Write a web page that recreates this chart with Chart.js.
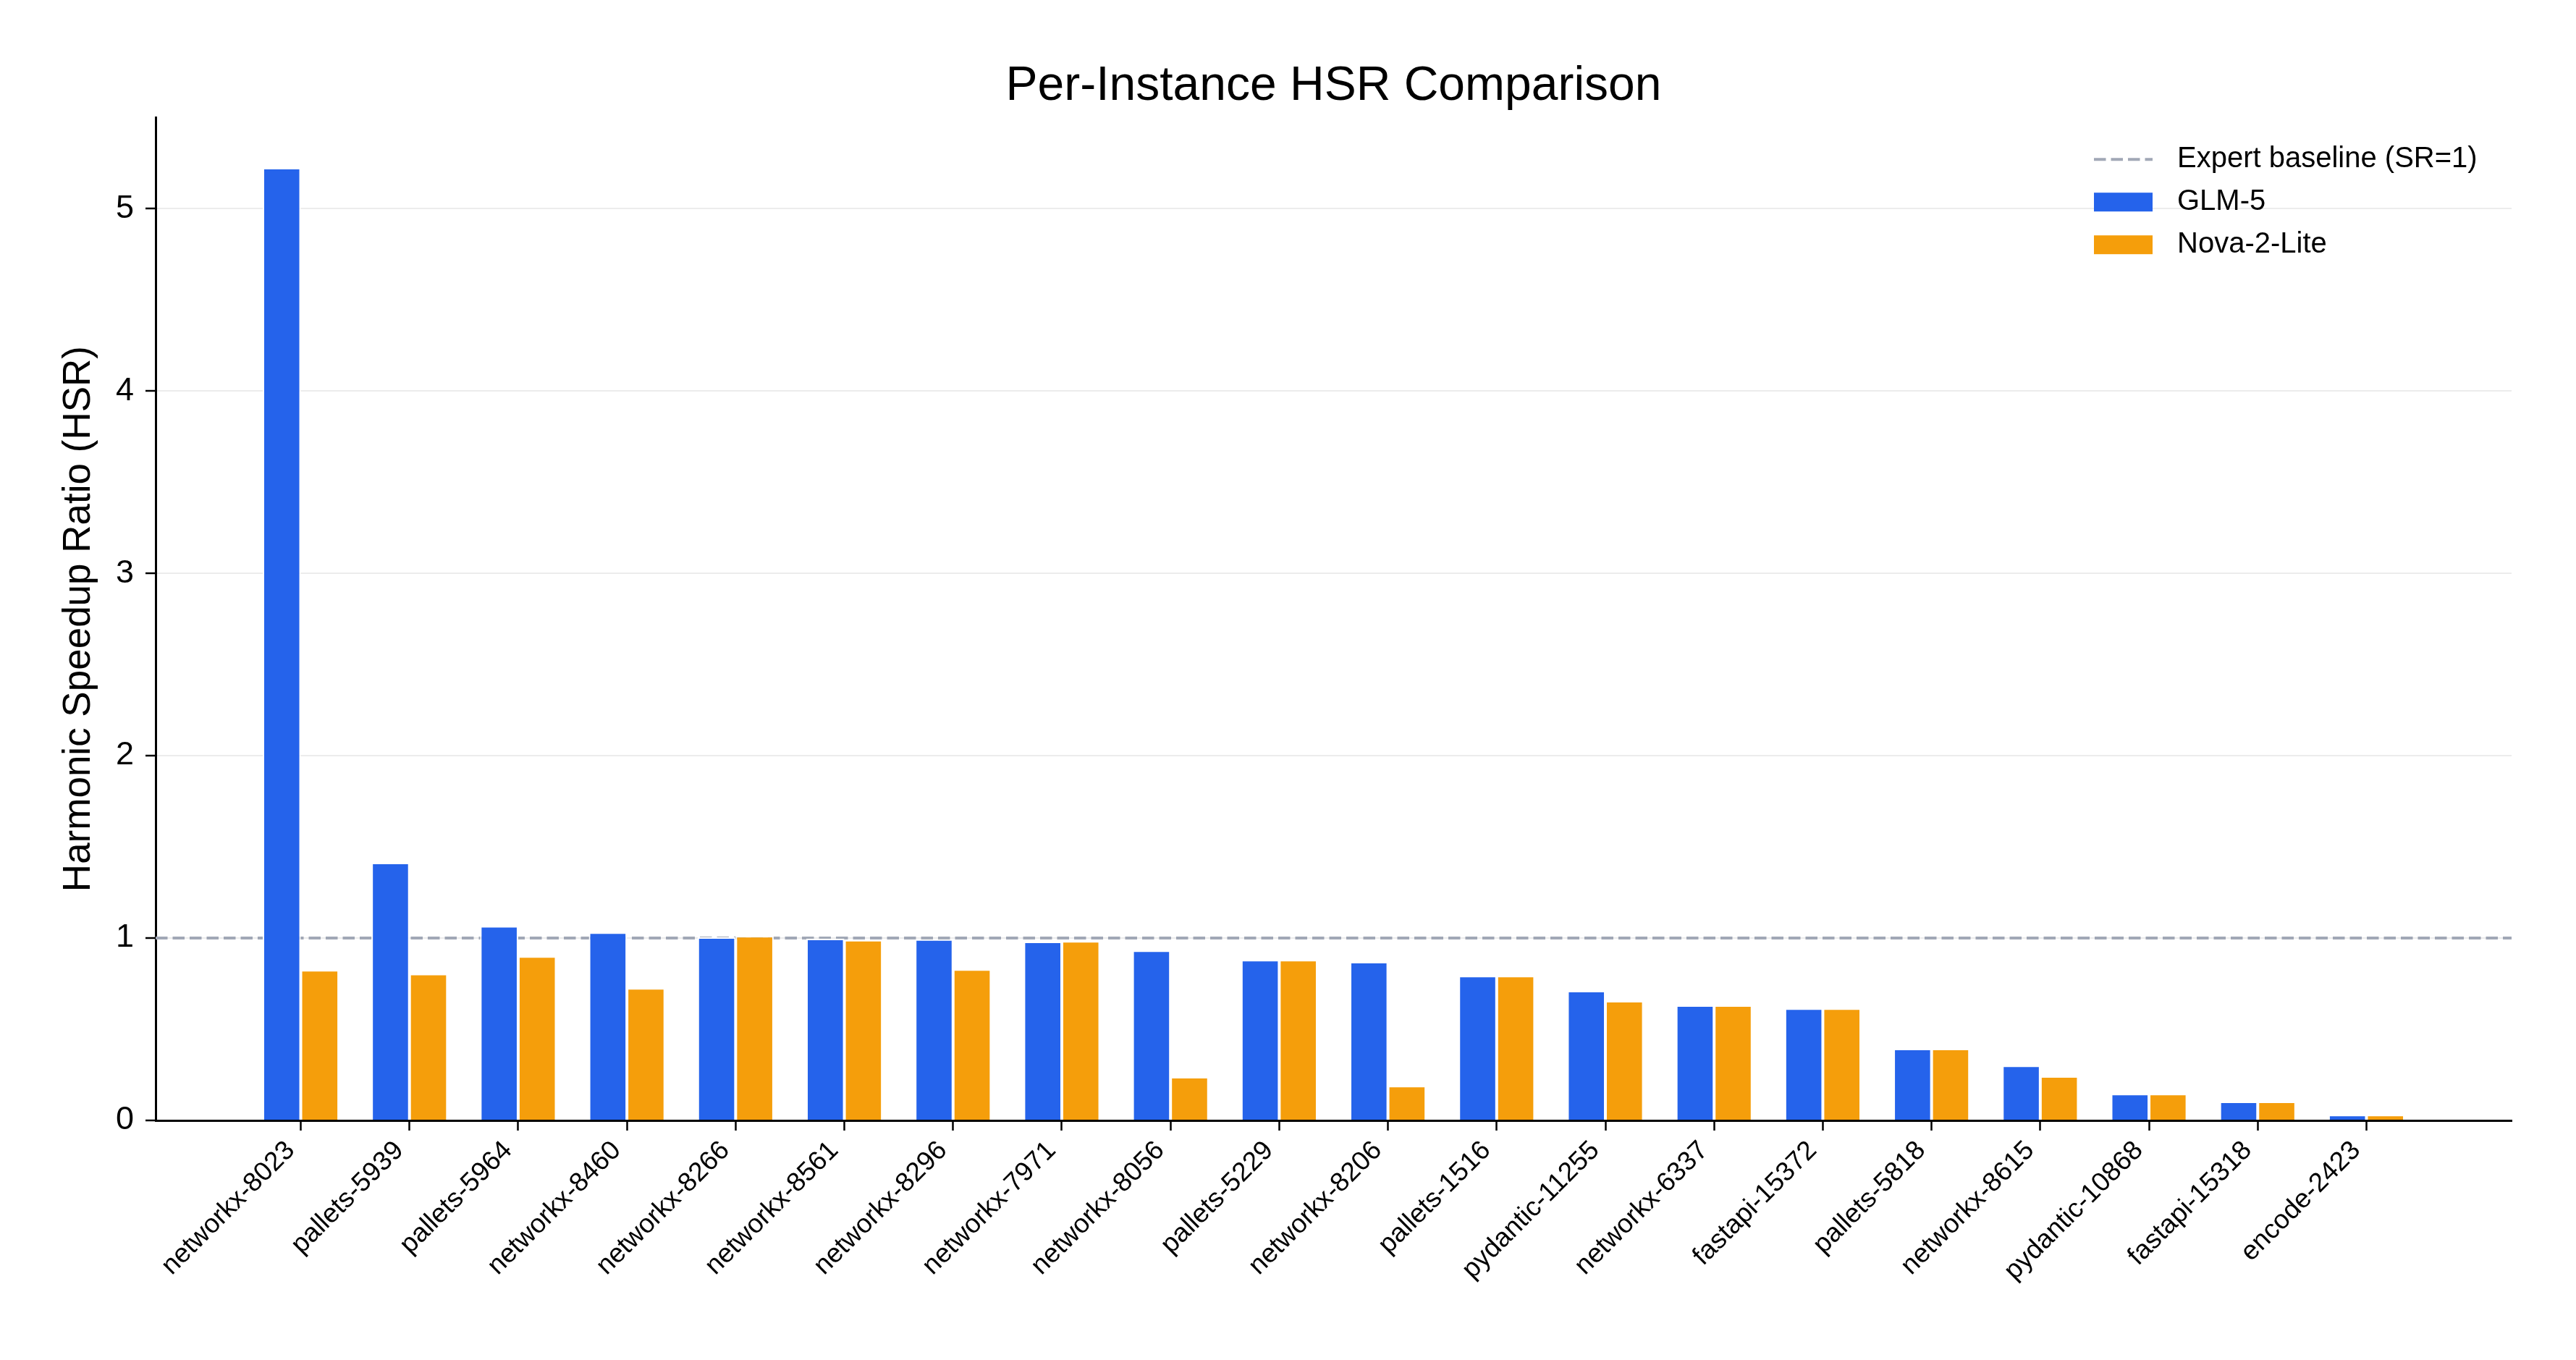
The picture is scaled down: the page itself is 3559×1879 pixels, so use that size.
<!DOCTYPE html>
<html><head><meta charset="utf-8">
<script src="https://cdn.jsdelivr.net/npm/chart.js@4.4.1/dist/chart.umd.min.js"></script>
<style>html,body{margin:0;padding:0;background:#fff;overflow:hidden}#wrap{width:3559px;height:1879px}</style>
</head><body><div id="wrap"><canvas id="c" width="3559" height="1879" style="width:3559px;height:1879px"></canvas></div>
<script>
const categories = ['networkx-8023','pallets-5939','pallets-5964','networkx-8460','networkx-8266','networkx-8561','networkx-8296','networkx-7971','networkx-8056','pallets-5229','networkx-8206','pallets-1516','pydantic-11255','networkx-6337','fastapi-15372','pallets-5818','networkx-8615','pydantic-10868','fastapi-15318','encode-2423'];
const glm5 = [5.223,1.413,1.066,1.031,1.004,0.996,0.993,0.980,0.932,0.880,0.869,0.793,0.710,0.631,0.614,0.393,0.301,0.146,0.103,0.031];
const nova2lite = [0.825,0.804,0.900,0.725,1.011,0.989,0.828,0.983,0.238,0.880,0.190,0.793,0.655,0.631,0.614,0.393,0.242,0.146,0.103,0.031];
const seriesNames = ['GLM-5','Nova-2-Lite'];
const baselineValue = 1;
const baselineLabel = 'Expert baseline (SR=1)';
const yTicks = [0,1,2,3,4,5];
const yMax = 5.5;
const xMargin = 1.335;

const FONT = "'Liberation Sans', Arial, Helvetica, sans-serif";
const COLORS = ['#2563eb', '#f59e0b'];
const BASE_COLOR = '#a1a8b6';

Chart.defaults.font.family = FONT;
Chart.defaults.color = '#000';

const toXY = arr => arr.map((v, i) => ({x: i, y: v}));

const baselinePlugin = {
  id: 'baseline',
  beforeDatasetsDraw(chart) {
    const {ctx, chartArea, scales} = chart;
    const y = scales.y.getPixelForValue(baselineValue);
    ctx.save();
    ctx.strokeStyle = BASE_COLOR;
    ctx.lineWidth = 4;
    ctx.setLineDash([16.5, 7]);
    ctx.beginPath();
    ctx.moveTo(chartArea.left, y);
    ctx.lineTo(chartArea.right, y);
    ctx.stroke();
    ctx.restore();
  }
};

const legendPlugin = {
  id: 'customLegend',
  afterDraw(chart) {
    const {ctx, chartArea} = chart;
    const hx = chartArea.right - 577;
    const hw = 81;
    const tx = chartArea.right - 462;
    const rows = [chartArea.top + 58, chartArea.top + 117, chartArea.top + 176];
    ctx.save();
    ctx.font = '40px ' + FONT;
    ctx.fillStyle = '#000';
    ctx.textBaseline = 'middle';
    ctx.textAlign = 'left';
    ctx.strokeStyle = BASE_COLOR;
    ctx.lineWidth = 4;
    ctx.setLineDash([16.5, 7]);
    ctx.beginPath();
    ctx.moveTo(hx, rows[0]);
    ctx.lineTo(hx + hw, rows[0]);
    ctx.stroke();
    ctx.setLineDash([]);
    ctx.fillText(baselineLabel, tx, rows[0]);
    chart.data.datasets.forEach((ds, i) => {
      ctx.fillStyle = ds.backgroundColor;
      ctx.fillRect(hx, rows[i + 1] - 13, hw, 26);
      ctx.fillStyle = '#000';
      ctx.fillText(ds.label, tx, rows[i + 1]);
    });
    ctx.restore();
  }
};

new Chart(document.getElementById('c'), {
  type: 'bar',
  data: {
    datasets: [
      {label: seriesNames[0], data: toXY(glm5), backgroundColor: COLORS[0], borderColor: '#fff', borderWidth: 2},
      {label: seriesNames[1], data: toXY(nova2lite), backgroundColor: COLORS[1], borderColor: '#fff', borderWidth: 2}
    ]
  },
  options: {
    responsive: false,
    devicePixelRatio: 1,
    animation: false,
    categoryPercentage: 0.7,
    barPercentage: 1.0,
    layout: {padding: {left: 0, right: 89, top: 0, bottom: 0}},
    plugins: {
      legend: {display: false},
      tooltip: {enabled: false},
      title: {
        display: true,
        text: 'Per-Instance HSR Comparison',
        fullSize: false,
        color: '#000',
        font: {size: 66, weight: 'normal', family: FONT, lineHeight: 1.2},
        padding: {top: 80, bottom: 3}
      }
    },
    scales: {
      x: {
        type: 'linear',
        offset: false,
        min: -xMargin,
        max: categories.length - 1 + xMargin,
        afterBuildTicks: s => { s.ticks = categories.map((_, i) => ({value: i})); },
        afterFit: s => { s.height = 331; },
        grid: {offset: false, drawOnChartArea: false, drawTicks: true, tickLength: 14, tickColor: '#000', tickWidth: 2.5},
        border: {display: true, color: '#000', width: 3},
        ticks: {
          autoSkip: false,
          minRotation: 45,
          maxRotation: 45,
          padding: 6,
          labelOffset: -14,
          color: '#000',
          font: {size: 37, family: FONT},
          callback: v => categories[v]
        }
      },
      y: {
        min: 0,
        max: yMax,
        afterBuildTicks: s => { s.ticks = yTicks.map(v => ({value: v})); },
        afterFit: s => { s.width = 215; },
        grid: {color: '#ececec', lineWidth: 2, drawTicks: true, tickLength: 14, tickColor: '#000', tickWidth: 2.5},
        border: {display: true, color: '#000', width: 3},
        ticks: {padding: 16, color: '#000', font: {size: 45, family: FONT}},
        title: {
          display: true,
          text: 'Harmonic Speedup Ratio (HSR)',
          color: '#000',
          font: {size: 53, weight: 'normal', family: FONT, lineHeight: 1.2},
          padding: {top: 78, bottom: 0}
        }
      }
    }
  },
  plugins: [baselinePlugin, legendPlugin]
});
</script>
</body></html>
